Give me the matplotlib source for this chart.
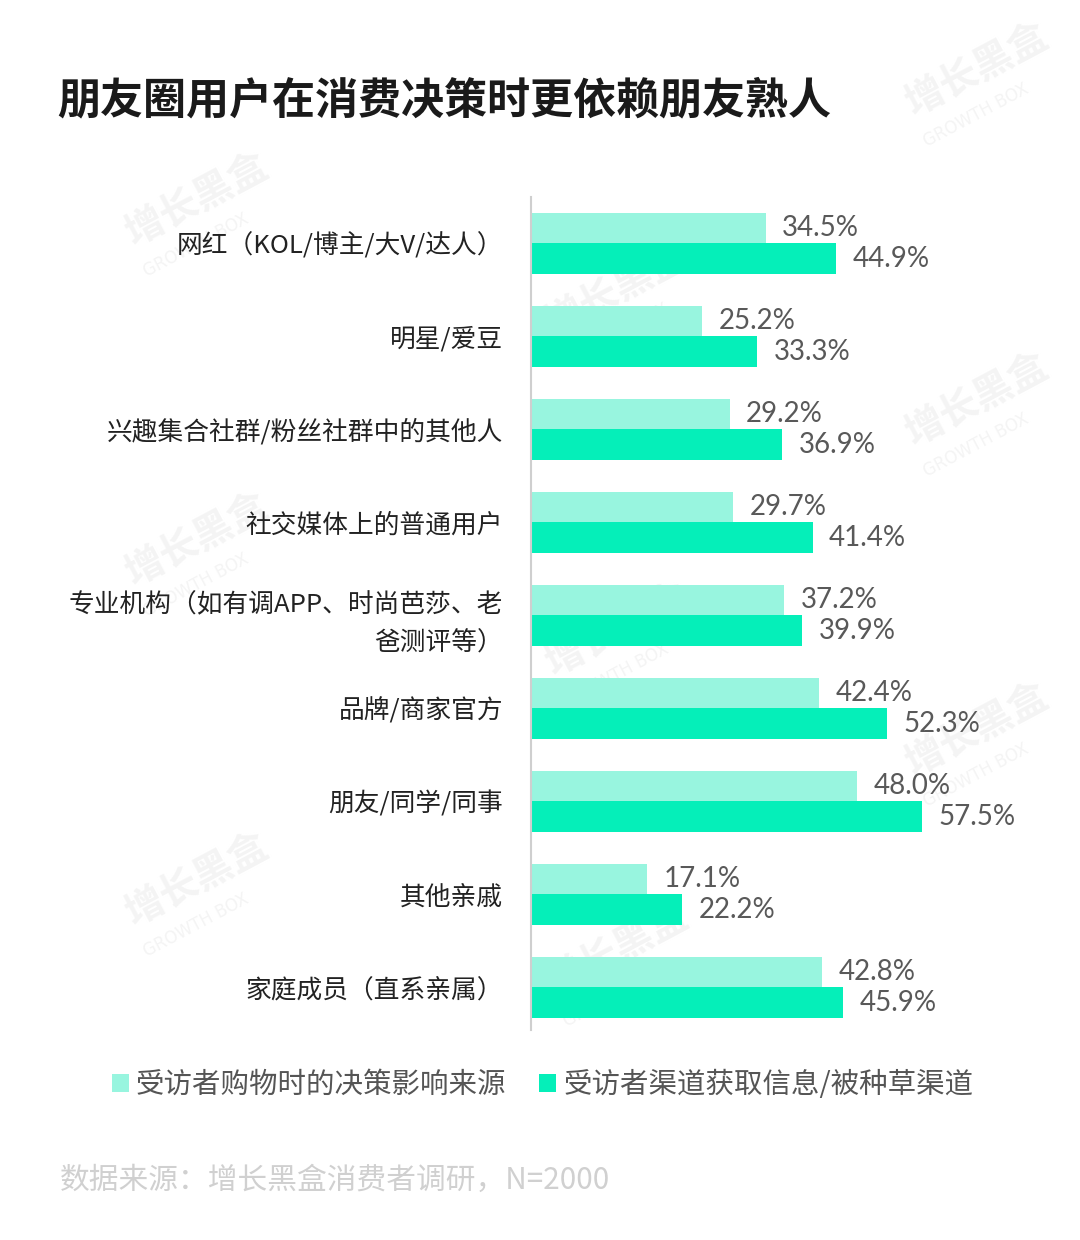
import matplotlib
matplotlib.use("Agg")
import matplotlib.pyplot as plt
import numpy as np

plt.rcParams['font.family'] = ['Noto Sans CJK SC', 'DejaVu Sans']

categories = [
    "网红（KOL/博主/大V/达人）",
    "明星/爱豆",
    "兴趣集合社群/粉丝社群中的其他人",
    "社交媒体上的普通用户",
    "专业机构（如有调APP、时尚芭莎、老\n爸测评等）",
    "品牌/商家官方",
    "朋友/同学/同事",
    "其他亲戚",
    "家庭成员（直系亲属）",
]
decision_source = [34.5, 25.2, 29.2, 29.7, 37.2, 42.4, 48.0, 17.1, 42.8]
info_channel = [44.9, 33.3, 36.9, 41.4, 39.9, 52.3, 57.5, 22.2, 45.9]
series_names = ["受访者购物时的决策影响来源", "受访者渠道获取信息/被种草渠道"]
title = "朋友圈用户在消费决策时更依赖朋友熟人"
source_note = "数据来源：增长黑盒消费者调研，N=2000"

light = "#98F5DF"
dark = "#05EFB9"

W, H = 1080, 1240
fig = plt.figure(figsize=(W / 100, H / 100), dpi=100)
fig.patch.set_facecolor("white")

# faint watermarks (behind everything)
for (x, y) in [(120, 200), (120, 540), (120, 880), (900, 70), (900, 400), (900, 730), (540, 290), (540, 630), (540, 950)]:
    fig.text(x / W, 1 - y / H, "增长黑盒", fontsize=28, color="#f4f4f4", rotation=28,
             ha="left", va="center", fontweight="bold", zorder=-5)
    fig.text((x + 20) / W, 1 - (y + 45) / H, "GROWTH BOX", fontsize=12, color="#f4f4f4", rotation=28,
             ha="left", va="center", zorder=-5, family=["DejaVu Sans"])

left, right, top, bottom = 531, 1000, 197, 1030
ax = fig.add_axes([left / W, 1 - bottom / H, (right - left) / W, (bottom - top) / H])
ax.set_facecolor("none")
ax.set_zorder(2)

px_per_unit = 6.8
ax.set_xlim(0, (right - left) / px_per_unit)
ax.set_ylim(8.46, -0.5)

y = np.arange(len(categories))
h = 0.33
ax.barh(y - h / 2, decision_source, height=h, color=light, label=series_names[0], zorder=2)
ax.barh(y + h / 2, info_channel, height=h, color=dark, label=series_names[1], zorder=2)

val_font = dict(fontsize=20, color="#595959", family=["Lato", "DejaVu Sans"], fontweight="normal")
for yi, v in zip(y, decision_source):
    ax.annotate(f"{v:.1f}%", (v, yi - h / 2), xytext=(12, 0), textcoords="offset points",
                ha="left", va="center", **val_font)
for yi, v in zip(y, info_channel):
    ax.annotate(f"{v:.1f}%", (v, yi + h / 2), xytext=(12, 0), textcoords="offset points",
                ha="left", va="center", **val_font)

ax.set_yticks(y)
ax.set_yticklabels(categories, fontsize=18.5, color="#222222", fontweight="medium", linespacing=1.6)
ax.tick_params(axis="y", length=0, pad=20)
ax.set_xticks([])
for s in ["top", "right", "bottom"]:
    ax.spines[s].set_visible(False)
ax.spines["left"].set_color("#cfcfcf")
ax.spines["left"].set_linewidth(1.5)

fig.text(57 / W, 1 - 100 / H, title, fontsize=31, fontweight="heavy", color="#1a1a1a",
         ha="left", va="center")

leg = ax.legend(loc="center left", bbox_to_anchor=(86 / W, 1 - 1085 / H), bbox_transform=fig.transFigure,
                ncol=2, frameon=False, fontsize=20.5, handlelength=0.6, handleheight=0.6,
                handletextpad=0.25, columnspacing=1.15, labelcolor="#555555")

fig.text(60 / W, 1 - 1180 / H, source_note, fontsize=21.4, color="#d0d0d0", ha="left", va="center")

fig.savefig("out.png", dpi=100, facecolor="white")
